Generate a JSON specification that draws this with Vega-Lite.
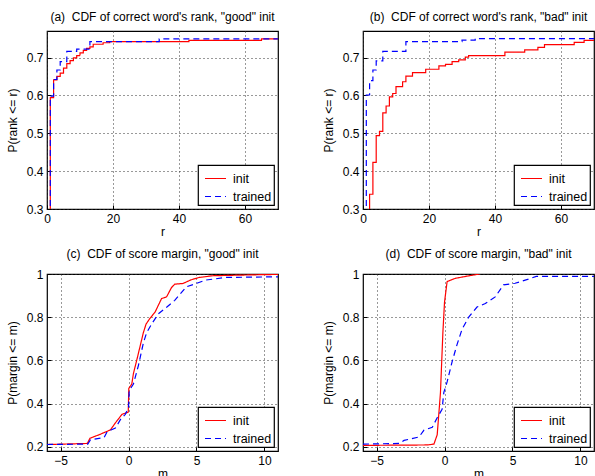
{
  "$schema": "https://vega.github.io/schema/vega-lite/v6.json",
  "autosize": {"type": "pad"},
  "padding": {"left": 5, "top": 10, "right": 0, "bottom": 0},
  "background": "white",
  "datasets": {
    "a": [
      {"x": 0, "p": 0, "s": "init"}, {"x": 1, "p": 0.594, "s": "init"}, {"x": 2, "p": 0.641, "s": "init"}, {"x": 3, "p": 0.65, "s": "init"}, {"x": 4, "p": 0.659, "s": "init"}, {"x": 5, "p": 0.672, "s": "init"}, {"x": 6, "p": 0.684, "s": "init"}, {"x": 7, "p": 0.692, "s": "init"}, {"x": 8, "p": 0.699, "s": "init"}, {"x": 9, "p": 0.705, "s": "init"}, {"x": 10, "p": 0.712, "s": "init"}, {"x": 11, "p": 0.719, "s": "init"}, {"x": 12, "p": 0.724, "s": "init"}, {"x": 13, "p": 0.728, "s": "init"}, {"x": 14, "p": 0.735, "s": "init"}, {"x": 17, "p": 0.739, "s": "init"}, {"x": 19, "p": 0.742, "s": "init"}, {"x": 43, "p": 0.745, "s": "init"}, {"x": 65, "p": 0.749, "s": "init"}, {"x": 70, "p": 0.749, "s": "init"},
      {"x": 0, "p": 0, "s": "trained"}, {"x": 1, "p": 0.598, "s": "trained"}, {"x": 2, "p": 0.642, "s": "trained"}, {"x": 3, "p": 0.667, "s": "trained"}, {"x": 4, "p": 0.689, "s": "trained"}, {"x": 6, "p": 0.716, "s": "trained"}, {"x": 9, "p": 0.722, "s": "trained"}, {"x": 13, "p": 0.742, "s": "trained"}, {"x": 34, "p": 0.749, "s": "trained"}, {"x": 70, "p": 0.749, "s": "trained"}
    ],
    "b": [
      {"x": 0, "p": 0, "s": "init"}, {"x": 2, "p": 0.339, "s": "init"}, {"x": 3, "p": 0.423, "s": "init"}, {"x": 4, "p": 0.494, "s": "init"}, {"x": 5, "p": 0.505, "s": "init"}, {"x": 6, "p": 0.554, "s": "init"}, {"x": 7, "p": 0.572, "s": "init"}, {"x": 8, "p": 0.596, "s": "init"}, {"x": 9, "p": 0.605, "s": "init"}, {"x": 10, "p": 0.623, "s": "init"}, {"x": 12, "p": 0.636, "s": "init"}, {"x": 13, "p": 0.651, "s": "init"}, {"x": 15, "p": 0.66, "s": "init"}, {"x": 19, "p": 0.669, "s": "init"}, {"x": 23, "p": 0.678, "s": "init"}, {"x": 25, "p": 0.682, "s": "init"}, {"x": 27, "p": 0.689, "s": "init"}, {"x": 29, "p": 0.694, "s": "init"}, {"x": 31, "p": 0.701, "s": "init"}, {"x": 32, "p": 0.705, "s": "init"}, {"x": 43, "p": 0.714, "s": "init"}, {"x": 49, "p": 0.72, "s": "init"}, {"x": 53, "p": 0.727, "s": "init"}, {"x": 55, "p": 0.734, "s": "init"}, {"x": 64, "p": 0.74, "s": "init"}, {"x": 67, "p": 0.745, "s": "init"}, {"x": 70, "p": 0.745, "s": "init"},
      {"x": 0, "p": 0, "s": "trained"}, {"x": 1, "p": 0.601, "s": "trained"}, {"x": 2, "p": 0.639, "s": "trained"}, {"x": 3, "p": 0.667, "s": "trained"}, {"x": 4, "p": 0.691, "s": "trained"}, {"x": 6, "p": 0.716, "s": "trained"}, {"x": 13, "p": 0.742, "s": "trained"}, {"x": 30, "p": 0.746, "s": "trained"}, {"x": 34, "p": 0.75, "s": "trained"}, {"x": 70, "p": 0.75, "s": "trained"}
    ],
    "c": [
      {"x": -6, "p": 0.21, "s": "init"}, {"x": -3.03, "p": 0.215, "s": "init"}, {"x": -2.84, "p": 0.239, "s": "init"}, {"x": -2.06, "p": 0.258, "s": "init"}, {"x": -1.33, "p": 0.278, "s": "init"}, {"x": -0.97, "p": 0.31, "s": "init"}, {"x": -0.48, "p": 0.35, "s": "init"}, {"x": -0.02, "p": 0.36, "s": "init"}, {"x": 0.02, "p": 0.47, "s": "init"}, {"x": 0.24, "p": 0.49, "s": "init"}, {"x": 0.36, "p": 0.539, "s": "init"}, {"x": 0.61, "p": 0.602, "s": "init"}, {"x": 0.85, "p": 0.665, "s": "init"}, {"x": 1.09, "p": 0.728, "s": "init"}, {"x": 1.29, "p": 0.768, "s": "init"}, {"x": 1.58, "p": 0.795, "s": "init"}, {"x": 1.95, "p": 0.823, "s": "init"}, {"x": 2.43, "p": 0.886, "s": "init"}, {"x": 2.8, "p": 0.894, "s": "init"}, {"x": 3.16, "p": 0.937, "s": "init"}, {"x": 3.4, "p": 0.953, "s": "init"}, {"x": 4.0, "p": 0.956, "s": "init"}, {"x": 4.6, "p": 0.973, "s": "init"}, {"x": 5.2, "p": 0.984, "s": "init"}, {"x": 6.2, "p": 0.992, "s": "init"}, {"x": 9.8, "p": 0.997, "s": "init"}, {"x": 11, "p": 0.998, "s": "init"},
      {"x": -6, "p": 0.21, "s": "trained"}, {"x": -3.0, "p": 0.212, "s": "trained"}, {"x": -2.8, "p": 0.232, "s": "trained"}, {"x": -1.8, "p": 0.242, "s": "trained"}, {"x": -1.57, "p": 0.27, "s": "trained"}, {"x": -0.97, "p": 0.286, "s": "trained"}, {"x": -0.6, "p": 0.325, "s": "trained"}, {"x": -0.24, "p": 0.35, "s": "trained"}, {"x": 0.0, "p": 0.38, "s": "trained"}, {"x": 0.05, "p": 0.46, "s": "trained"}, {"x": 0.36, "p": 0.49, "s": "trained"}, {"x": 0.73, "p": 0.577, "s": "trained"}, {"x": 1.09, "p": 0.68, "s": "trained"}, {"x": 1.33, "p": 0.728, "s": "trained"}, {"x": 1.7, "p": 0.768, "s": "trained"}, {"x": 2.19, "p": 0.815, "s": "trained"}, {"x": 2.8, "p": 0.846, "s": "trained"}, {"x": 3.4, "p": 0.878, "s": "trained"}, {"x": 4.26, "p": 0.941, "s": "trained"}, {"x": 4.98, "p": 0.956, "s": "trained"}, {"x": 5.7, "p": 0.972, "s": "trained"}, {"x": 7.17, "p": 0.984, "s": "trained"}, {"x": 11, "p": 0.987, "s": "trained"}
    ],
    "d": [
      {"x": -6, "p": 0.206, "s": "init"}, {"x": -1.27, "p": 0.208, "s": "init"}, {"x": -0.78, "p": 0.212, "s": "init"}, {"x": -0.54, "p": 0.255, "s": "init"}, {"x": -0.3, "p": 0.45, "s": "init"}, {"x": -0.12, "p": 0.73, "s": "init"}, {"x": 0.0, "p": 0.87, "s": "init"}, {"x": 0.19, "p": 0.965, "s": "init"}, {"x": 0.8, "p": 0.98, "s": "init"}, {"x": 1.65, "p": 0.99, "s": "init"}, {"x": 2.5, "p": 0.999, "s": "init"}, {"x": 2.6, "p": 1.0, "s": "init"},
      {"x": -6, "p": 0.212, "s": "trained"}, {"x": -3.34, "p": 0.215, "s": "trained"}, {"x": -2.98, "p": 0.229, "s": "trained"}, {"x": -1.88, "p": 0.245, "s": "trained"}, {"x": -1.51, "p": 0.277, "s": "trained"}, {"x": -0.9, "p": 0.29, "s": "trained"}, {"x": -0.54, "p": 0.334, "s": "trained"}, {"x": -0.18, "p": 0.373, "s": "trained"}, {"x": -0.05, "p": 0.452, "s": "trained"}, {"x": 0.19, "p": 0.5, "s": "trained"}, {"x": 0.56, "p": 0.594, "s": "trained"}, {"x": 0.92, "p": 0.673, "s": "trained"}, {"x": 1.29, "p": 0.744, "s": "trained"}, {"x": 1.78, "p": 0.8, "s": "trained"}, {"x": 2.39, "p": 0.847, "s": "trained"}, {"x": 3.0, "p": 0.863, "s": "trained"}, {"x": 3.73, "p": 0.894, "s": "trained"}, {"x": 4.34, "p": 0.95, "s": "trained"}, {"x": 5.19, "p": 0.957, "s": "trained"}, {"x": 6.17, "p": 0.976, "s": "trained"}, {"x": 6.75, "p": 0.989, "s": "trained"}, {"x": 11, "p": 0.989, "s": "trained"}
    ]
  },
  "bounds": "flush",
  "spacing": {"row": 65, "column": 85},
  "columns": 2,
  "resolve": {"legend": {"color": "independent", "strokeDash": "independent"}},
  "concat": [
    {
      "data": {"name": "a"},
      "width": 231, "height": 178,
      "title": "(a)\u00a0 CDF of correct word's rank, \"good\" init",
      "mark": {"type": "line", "interpolate": "step-after", "clip": true, "strokeWidth": 1.2},
      "encoding": {
        "x": {"field": "x", "type": "quantitative", "scale": {"domain": [0, 70], "nice": false}, "axis": {"title": "r", "values": [0, 20, 40, 60]}},
        "y": {"field": "p", "type": "quantitative", "scale": {"domain": [0.3, 0.77], "nice": false, "zero": false}, "axis": {"title": "P(rank <= r)", "values": [0.3, 0.4, 0.5, 0.6, 0.7], "format": "~g"}},
        "color": {"field": "s", "type": "nominal", "scale": {"domain": ["init", "trained"], "range": ["#ff0000", "#0000ff"]}, "legend": {"title": null}},
        "strokeDash": {"field": "s", "type": "nominal", "scale": {"domain": ["init", "trained"], "range": [[1, 0], [6, 4]]}, "legend": {"title": null}}
      }
    },
    {
      "data": {"name": "b"},
      "width": 231, "height": 178,
      "title": "(b)\u00a0 CDF of correct word's rank, \"bad\" init",
      "mark": {"type": "line", "interpolate": "step-after", "clip": true, "strokeWidth": 1.2},
      "encoding": {
        "x": {"field": "x", "type": "quantitative", "scale": {"domain": [0, 70], "nice": false}, "axis": {"title": "r", "values": [0, 20, 40, 60]}},
        "y": {"field": "p", "type": "quantitative", "scale": {"domain": [0.3, 0.77], "nice": false, "zero": false}, "axis": {"title": "P(rank <= r)", "values": [0.3, 0.4, 0.5, 0.6, 0.7], "format": "~g"}},
        "color": {"field": "s", "type": "nominal", "scale": {"domain": ["init", "trained"], "range": ["#ff0000", "#0000ff"]}, "legend": {"title": null}},
        "strokeDash": {"field": "s", "type": "nominal", "scale": {"domain": ["init", "trained"], "range": [[1, 0], [6, 4]]}, "legend": {"title": null}}
      }
    },
    {
      "data": {"name": "c"},
      "width": 231, "height": 177,
      "title": "(c)\u00a0 CDF of score margin, \"good\" init",
      "mark": {"type": "line", "clip": true, "strokeWidth": 1.2},
      "encoding": {
        "x": {"field": "x", "type": "quantitative", "scale": {"domain": [-6, 11], "nice": false}, "axis": {"title": "m", "values": [-5, 0, 5, 10]}},
        "y": {"field": "p", "type": "quantitative", "scale": {"domain": [0.18, 1], "nice": false, "zero": false}, "axis": {"title": "P(margin <= m)", "values": [0.2, 0.4, 0.6, 0.8, 1], "format": "~g"}},
        "color": {"field": "s", "type": "nominal", "scale": {"domain": ["init", "trained"], "range": ["#ff0000", "#0000ff"]}, "legend": {"title": null}},
        "strokeDash": {"field": "s", "type": "nominal", "scale": {"domain": ["init", "trained"], "range": [[1, 0], [6, 4]]}, "legend": {"title": null}}
      }
    },
    {
      "data": {"name": "d"},
      "width": 231, "height": 177,
      "title": "(d)\u00a0 CDF of score margin, \"bad\" init",
      "mark": {"type": "line", "clip": true, "strokeWidth": 1.2},
      "encoding": {
        "x": {"field": "x", "type": "quantitative", "scale": {"domain": [-6, 11], "nice": false}, "axis": {"title": "m", "values": [-5, 0, 5, 10]}},
        "y": {"field": "p", "type": "quantitative", "scale": {"domain": [0.18, 1], "nice": false, "zero": false}, "axis": {"title": "P(margin <= m)", "values": [0.2, 0.4, 0.6, 0.8, 1], "format": "~g"}},
        "color": {"field": "s", "type": "nominal", "scale": {"domain": ["init", "trained"], "range": ["#ff0000", "#0000ff"]}, "legend": {"title": null}},
        "strokeDash": {"field": "s", "type": "nominal", "scale": {"domain": ["init", "trained"], "range": [[1, 0], [6, 4]]}, "legend": {"title": null}}
      }
    }
  ],
  "config": {
    "font": "Liberation Sans",
    "view": {"stroke": "black", "strokeWidth": 1.2},
    "axis": {
      "grid": true, "gridDash": [1, 3], "gridColor": "#333", "gridWidth": 1,
      "ticks": true, "tickSize": -4, "tickColor": "black", "domain": false,
      "labelFontSize": 12, "labelColor": "black", "labelFlush": false, "labelOverlap": false, "labelPadding": 8,
      "titleFontSize": 12, "titleFontWeight": "normal", "titleColor": "black", "titlePadding": 2
    },
    "axisY": {"minExtent": 26, "maxExtent": 26},
    "title": {"fontSize": 12, "fontWeight": "normal", "offset": 7, "color": "black"},
    "legend": {
      "orient": "bottom-right", "offset": 4, "padding": 2,
      "strokeColor": "black", "fillColor": "white", "strokeWidth": 1.2,
      "symbolType": "stroke", "symbolSize": 441, "symbolStrokeWidth": 1.2, "symbolOffset": 4,
      "labelFontSize": 12.5, "labelColor": "black", "labelOffset": 6, "rowPadding": -7,
      "labelExpr": "datum.label + '\u00a0'"
    }
  }
}
